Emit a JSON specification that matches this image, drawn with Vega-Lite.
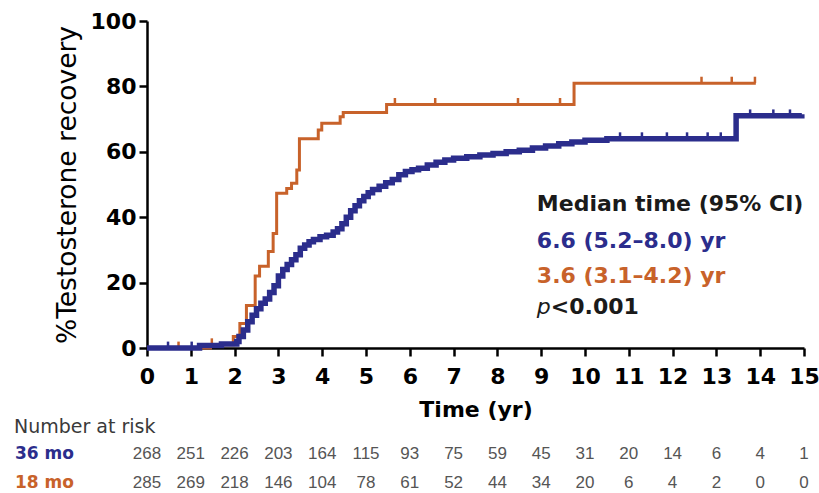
{
  "$schema": "https://vega.github.io/schema/vega-lite/v6.json",
  "width": 657,
  "height": 327,
  "autosize": {"type": "none"},
  "padding": {"left": 147, "top": 21, "right": 15, "bottom": 145},
  "background": "white",
  "config": {"view": {"stroke": null}, "font": "DejaVu Sans"},
  "datasets": {
    "km": [
      {"arm": "18 mo", "t": 0, "pct": 0},
      {"arm": "18 mo", "t": 1.45, "pct": 1},
      {"arm": "18 mo", "t": 1.97, "pct": 3.5},
      {"arm": "18 mo", "t": 2.12, "pct": 7.5},
      {"arm": "18 mo", "t": 2.27, "pct": 13},
      {"arm": "18 mo", "t": 2.47, "pct": 22},
      {"arm": "18 mo", "t": 2.57, "pct": 25},
      {"arm": "18 mo", "t": 2.77, "pct": 29.5},
      {"arm": "18 mo", "t": 2.88, "pct": 35},
      {"arm": "18 mo", "t": 2.96, "pct": 47.3},
      {"arm": "18 mo", "t": 3.19, "pct": 48.8},
      {"arm": "18 mo", "t": 3.3, "pct": 50.4},
      {"arm": "18 mo", "t": 3.42, "pct": 54.4},
      {"arm": "18 mo", "t": 3.48, "pct": 64},
      {"arm": "18 mo", "t": 3.91, "pct": 66.7},
      {"arm": "18 mo", "t": 3.99, "pct": 68.7},
      {"arm": "18 mo", "t": 4.41, "pct": 70.7},
      {"arm": "18 mo", "t": 4.48, "pct": 72},
      {"arm": "18 mo", "t": 5.47, "pct": 74.5},
      {"arm": "18 mo", "t": 9.75, "pct": 81},
      {"arm": "18 mo", "t": 13.9, "pct": 81},
      {"arm": "36 mo", "t": 0, "pct": 0},
      {"arm": "36 mo", "t": 1.2, "pct": 0.8},
      {"arm": "36 mo", "t": 1.7, "pct": 1.2},
      {"arm": "36 mo", "t": 2.05, "pct": 2},
      {"arm": "36 mo", "t": 2.1, "pct": 3.5},
      {"arm": "36 mo", "t": 2.2, "pct": 5.5},
      {"arm": "36 mo", "t": 2.3, "pct": 8},
      {"arm": "36 mo", "t": 2.4, "pct": 10},
      {"arm": "36 mo", "t": 2.5, "pct": 12},
      {"arm": "36 mo", "t": 2.6, "pct": 13.7},
      {"arm": "36 mo", "t": 2.7, "pct": 15},
      {"arm": "36 mo", "t": 2.8, "pct": 17},
      {"arm": "36 mo", "t": 2.9, "pct": 19},
      {"arm": "36 mo", "t": 3.0, "pct": 22},
      {"arm": "36 mo", "t": 3.1, "pct": 24},
      {"arm": "36 mo", "t": 3.2, "pct": 25.5},
      {"arm": "36 mo", "t": 3.3, "pct": 27},
      {"arm": "36 mo", "t": 3.4, "pct": 28.5},
      {"arm": "36 mo", "t": 3.5, "pct": 30.5},
      {"arm": "36 mo", "t": 3.6, "pct": 31.5},
      {"arm": "36 mo", "t": 3.7, "pct": 32.5},
      {"arm": "36 mo", "t": 3.8, "pct": 33.2},
      {"arm": "36 mo", "t": 3.95, "pct": 34},
      {"arm": "36 mo", "t": 4.1, "pct": 34.5},
      {"arm": "36 mo", "t": 4.25, "pct": 35.5},
      {"arm": "36 mo", "t": 4.35, "pct": 36.5},
      {"arm": "36 mo", "t": 4.45, "pct": 38},
      {"arm": "36 mo", "t": 4.55, "pct": 40},
      {"arm": "36 mo", "t": 4.65, "pct": 42},
      {"arm": "36 mo", "t": 4.75, "pct": 43.5},
      {"arm": "36 mo", "t": 4.85, "pct": 45},
      {"arm": "36 mo", "t": 4.95, "pct": 46.3},
      {"arm": "36 mo", "t": 5.05, "pct": 47.5},
      {"arm": "36 mo", "t": 5.15, "pct": 48.5},
      {"arm": "36 mo", "t": 5.3, "pct": 49.5},
      {"arm": "36 mo", "t": 5.45, "pct": 50.5},
      {"arm": "36 mo", "t": 5.6, "pct": 51.5},
      {"arm": "36 mo", "t": 5.75, "pct": 53},
      {"arm": "36 mo", "t": 5.9, "pct": 54},
      {"arm": "36 mo", "t": 6.05, "pct": 54.5},
      {"arm": "36 mo", "t": 6.2, "pct": 55},
      {"arm": "36 mo", "t": 6.4, "pct": 56},
      {"arm": "36 mo", "t": 6.6, "pct": 56.8},
      {"arm": "36 mo", "t": 6.8, "pct": 57.5},
      {"arm": "36 mo", "t": 7.0, "pct": 58},
      {"arm": "36 mo", "t": 7.3, "pct": 58.5},
      {"arm": "36 mo", "t": 7.6, "pct": 59},
      {"arm": "36 mo", "t": 7.9, "pct": 59.5},
      {"arm": "36 mo", "t": 8.2, "pct": 60},
      {"arm": "36 mo", "t": 8.5, "pct": 60.5},
      {"arm": "36 mo", "t": 8.8, "pct": 61.2},
      {"arm": "36 mo", "t": 9.1, "pct": 61.8},
      {"arm": "36 mo", "t": 9.4, "pct": 62.5},
      {"arm": "36 mo", "t": 9.7, "pct": 63},
      {"arm": "36 mo", "t": 10.0, "pct": 63.5},
      {"arm": "36 mo", "t": 10.5, "pct": 64},
      {"arm": "36 mo", "t": 13.45, "pct": 71},
      {"arm": "36 mo", "t": 14.95, "pct": 71.5}
    ],
    "censor": [
      {"arm": "18 mo", "t": 0.72, "pct": 0},
      {"arm": "18 mo", "t": 1.48, "pct": 1},
      {"arm": "18 mo", "t": 5.66, "pct": 74.5},
      {"arm": "18 mo", "t": 6.58, "pct": 74.5},
      {"arm": "18 mo", "t": 8.47, "pct": 74.5},
      {"arm": "18 mo", "t": 9.43, "pct": 74.5},
      {"arm": "18 mo", "t": 12.66, "pct": 81},
      {"arm": "18 mo", "t": 13.35, "pct": 81},
      {"arm": "18 mo", "t": 13.88, "pct": 81},
      {"arm": "36 mo", "t": 0.48, "pct": 0},
      {"arm": "36 mo", "t": 1.02, "pct": 0},
      {"arm": "36 mo", "t": 10.8, "pct": 64},
      {"arm": "36 mo", "t": 11.3, "pct": 64},
      {"arm": "36 mo", "t": 11.87, "pct": 64},
      {"arm": "36 mo", "t": 12.33, "pct": 64},
      {"arm": "36 mo", "t": 12.8, "pct": 64},
      {"arm": "36 mo", "t": 13.1, "pct": 64},
      {"arm": "36 mo", "t": 13.77, "pct": 71},
      {"arm": "36 mo", "t": 14.3, "pct": 71},
      {"arm": "36 mo", "t": 14.68, "pct": 71}
    ],
    "risk": [
      {"arm": "36 mo", "t": 0, "n": 268}, {"arm": "36 mo", "t": 1, "n": 251}, {"arm": "36 mo", "t": 2, "n": 226},
      {"arm": "36 mo", "t": 3, "n": 203}, {"arm": "36 mo", "t": 4, "n": 164}, {"arm": "36 mo", "t": 5, "n": 115},
      {"arm": "36 mo", "t": 6, "n": 93}, {"arm": "36 mo", "t": 7, "n": 75}, {"arm": "36 mo", "t": 8, "n": 59},
      {"arm": "36 mo", "t": 9, "n": 45}, {"arm": "36 mo", "t": 10, "n": 31}, {"arm": "36 mo", "t": 11, "n": 20},
      {"arm": "36 mo", "t": 12, "n": 14}, {"arm": "36 mo", "t": 13, "n": 6}, {"arm": "36 mo", "t": 14, "n": 4},
      {"arm": "36 mo", "t": 15, "n": 1},
      {"arm": "18 mo", "t": 0, "n": 285}, {"arm": "18 mo", "t": 1, "n": 269}, {"arm": "18 mo", "t": 2, "n": 218},
      {"arm": "18 mo", "t": 3, "n": 146}, {"arm": "18 mo", "t": 4, "n": 104}, {"arm": "18 mo", "t": 5, "n": 78},
      {"arm": "18 mo", "t": 6, "n": 61}, {"arm": "18 mo", "t": 7, "n": 52}, {"arm": "18 mo", "t": 8, "n": 44},
      {"arm": "18 mo", "t": 9, "n": 34}, {"arm": "18 mo", "t": 10, "n": 20}, {"arm": "18 mo", "t": 11, "n": 6},
      {"arm": "18 mo", "t": 12, "n": 4}, {"arm": "18 mo", "t": 13, "n": 2}, {"arm": "18 mo", "t": 14, "n": 0},
      {"arm": "18 mo", "t": 15, "n": 0}
    ]
  },
  "layer": [
    {
      "data": {"name": "km"},
      "transform": [{"filter": "datum.arm == '18 mo'"}],
      "mark": {"type": "line", "interpolate": "step-after", "color": "#c8622a", "strokeWidth": 3},
      "encoding": {
        "x": {
          "field": "t", "type": "quantitative",
          "scale": {"domain": [0, 15], "nice": false, "zero": false},
          "axis": {
            "values": [0,1,2,3,4,5,6,7,8,9,10,11,12,13,14,15],
            "grid": false, "domainColor": "black", "domainWidth": 2.5,
            "tickColor": "black", "tickWidth": 2.5, "tickSize": 8,
            "labelFont": "DejaVu Sans", "labelFontWeight": "bold", "labelFontSize": 22, "labelColor": "black",
            "labelPadding": 10, "labelFlush": false,
            "title": "Time (yr)", "titleFont": "DejaVu Sans", "titleFontWeight": "bold", "titleFontSize": 22,
            "titleColor": "black", "titlePadding": 12
          }
        },
        "y": {
          "field": "pct", "type": "quantitative",
          "scale": {"domain": [0, 100], "nice": false},
          "axis": {
            "values": [0, 20, 40, 60, 80, 100],
            "grid": false, "domainColor": "black", "domainWidth": 2.5,
            "tickColor": "black", "tickWidth": 2.5, "tickSize": 8,
            "labelFont": "DejaVu Sans", "labelFontWeight": "bold", "labelFontSize": 22, "labelColor": "black",
            "labelPadding": 3, "labelFlush": false,
            "title": "%Testosterone recovery", "titleFont": "DejaVu Sans", "titleFontWeight": "normal",
            "titleFontSize": 26.5, "titleColor": "black", "titlePadding": 9
          }
        }
      }
    },
    {
      "data": {"name": "censor"},
      "transform": [{"filter": "datum.arm == '18 mo'"}],
      "mark": {"type": "point", "shape": "M0,-1.6V0", "size": 64, "filled": false, "stroke": "#c8622a", "strokeWidth": 2.5, "opacity": 1},
      "encoding": {
        "x": {"field": "t", "type": "quantitative"},
        "y": {"field": "pct", "type": "quantitative"}
      }
    },
    {
      "data": {"name": "km"},
      "transform": [{"filter": "datum.arm == '36 mo'"}],
      "mark": {"type": "line", "interpolate": "step-after", "color": "#2b2d8c", "strokeWidth": 5.5},
      "encoding": {
        "x": {"field": "t", "type": "quantitative"},
        "y": {"field": "pct", "type": "quantitative"}
      }
    },
    {
      "data": {"name": "censor"},
      "transform": [{"filter": "datum.arm == '36 mo'"}],
      "mark": {"type": "point", "shape": "M0,-1.6V0", "size": 64, "filled": false, "stroke": "#2b2d8c", "strokeWidth": 2.5, "opacity": 1},
      "encoding": {
        "x": {"field": "t", "type": "quantitative"},
        "y": {"field": "pct", "type": "quantitative"}
      }
    },
    {
      "data": {"values": [{}]},
      "mark": {"type": "text", "align": "left", "baseline": "middle", "font": "DejaVu Sans", "fontWeight": "bold", "fontSize": 22, "color": "#1a1a1a"},
      "encoding": {"x": {"datum": 8.9}, "y": {"datum": 44}, "text": {"value": "Median time (95% CI)"}}
    },
    {
      "data": {"values": [{}]},
      "mark": {"type": "text", "align": "left", "baseline": "middle", "font": "DejaVu Sans", "fontWeight": "bold", "fontSize": 22, "color": "#2b2d8c"},
      "encoding": {"x": {"datum": 8.9}, "y": {"datum": 32.7}, "text": {"value": "6.6 (5.2–8.0) yr"}}
    },
    {
      "data": {"values": [{}]},
      "mark": {"type": "text", "align": "left", "baseline": "middle", "font": "DejaVu Sans", "fontWeight": "bold", "fontSize": 22, "color": "#c8622a"},
      "encoding": {"x": {"datum": 8.9}, "y": {"datum": 22}, "text": {"value": "3.6 (3.1–4.2) yr"}}
    },
    {
      "data": {"values": [{}]},
      "mark": {"type": "text", "align": "left", "baseline": "middle", "font": "DejaVu Sans", "fontStyle": "italic", "fontWeight": "normal", "fontSize": 22, "color": "#1a1a1a"},
      "encoding": {"x": {"datum": 8.9}, "y": {"datum": 12.5}, "text": {"value": "p"}}
    },
    {
      "data": {"values": [{}]},
      "mark": {"type": "text", "align": "left", "baseline": "middle", "dx": 14, "font": "DejaVu Sans", "fontWeight": "bold", "fontSize": 22, "color": "#1a1a1a"},
      "encoding": {"x": {"datum": 8.9}, "y": {"datum": 12.5}, "text": {"value": "<0.001"}}
    },
    {
      "data": {"values": [{}]},
      "mark": {"type": "text", "align": "left", "baseline": "middle", "dx": -133, "dy": 79, "font": "DejaVu Sans", "fontSize": 19, "color": "#3a3a3a"},
      "encoding": {"x": {"datum": 0}, "y": {"datum": 0}, "text": {"value": "Number at risk"}}
    },
    {
      "data": {"name": "risk"},
      "transform": [{"filter": "datum.arm == '36 mo' && datum.t == 0"}],
      "mark": {"type": "text", "align": "left", "baseline": "middle", "dx": -132, "dy": 106, "font": "DejaVu Sans", "fontWeight": "bold", "fontSize": 17, "color": "#2b2d8c"},
      "encoding": {"x": {"field": "t", "type": "quantitative"}, "y": {"datum": 0}, "text": {"field": "arm"}}
    },
    {
      "data": {"name": "risk"},
      "transform": [{"filter": "datum.arm == '18 mo' && datum.t == 0"}],
      "mark": {"type": "text", "align": "left", "baseline": "middle", "dx": -132, "dy": 135, "font": "DejaVu Sans", "fontWeight": "bold", "fontSize": 17, "color": "#c8622a"},
      "encoding": {"x": {"field": "t", "type": "quantitative"}, "y": {"datum": 0}, "text": {"field": "arm"}}
    },
    {
      "data": {"name": "risk"},
      "transform": [{"filter": "datum.arm == '36 mo'"}],
      "mark": {"type": "text", "align": "center", "baseline": "middle", "dy": 106, "font": "Liberation Sans", "fontSize": 17, "color": "#555555"},
      "encoding": {"x": {"field": "t", "type": "quantitative"}, "y": {"datum": 0}, "text": {"field": "n", "type": "quantitative"}}
    },
    {
      "data": {"name": "risk"},
      "transform": [{"filter": "datum.arm == '18 mo'"}],
      "mark": {"type": "text", "align": "center", "baseline": "middle", "dy": 135, "font": "Liberation Sans", "fontSize": 17, "color": "#555555"},
      "encoding": {"x": {"field": "t", "type": "quantitative"}, "y": {"datum": 0}, "text": {"field": "n", "type": "quantitative"}}
    }
  ]
}
